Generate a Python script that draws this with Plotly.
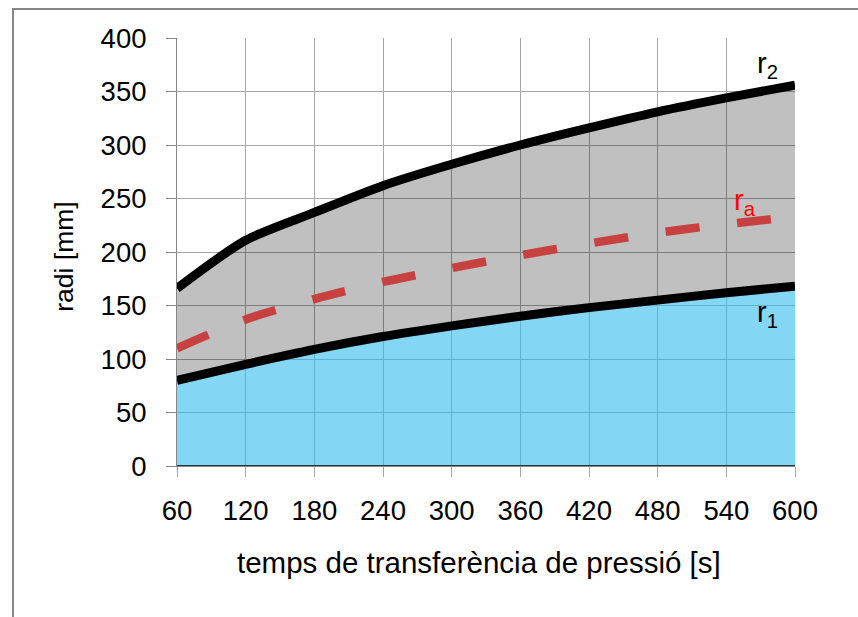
import plotly.graph_objects as go

# data
t = [60, 120, 180, 240, 300, 360, 420, 480, 540, 600]
r1 = [80, 95, 109, 121, 131, 140, 148, 155, 162, 168]
r2 = [166, 211, 237, 262, 282, 300, 316, 331, 344, 356]
ra = [110, 137, 156, 172, 185, 197, 208, 218, 226, 233]
base = [0] * len(t)

x_ticks = [60, 120, 180, 240, 300, 360, 420, 480, 540, 600]
y_ticks = [0, 50, 100, 150, 200, 250, 300, 350, 400]

FONT = "Liberation Sans, Arial, sans-serif"
SM = 0.7

fig = go.Figure()
fig.add_trace(go.Scatter(x=t, y=base, mode="lines",
                         line=dict(color="black", width=1.5), hoverinfo="skip"))
fig.add_trace(go.Scatter(x=t, y=r1, mode="lines", fill="tonexty",
                         fillcolor="rgba(48,188,238,0.6)",
                         line=dict(color="black", width=9, shape="spline", smoothing=SM)))
fig.add_trace(go.Scatter(x=t, y=r2, mode="lines", fill="tonexty",
                         fillcolor="rgba(0,0,0,0.247)",
                         line=dict(color="black", width=9, shape="spline", smoothing=SM)))
fig.add_trace(go.Scatter(x=t, y=ra, mode="lines",
                         line=dict(color="#C84141", width=8.5, dash="34px,38px",
                                   shape="spline", smoothing=SM)))

annos = [
    dict(x=576, y=375, text="r<sub>2</sub>", color="black"),
    dict(x=556, y=247, text="r<sub>a</sub>", color="#FF0000"),
    dict(x=576, y=142, text="r<sub>1</sub>", color="black"),
]
for a in annos:
    fig.add_annotation(x=a["x"], y=a["y"], text=a["text"], showarrow=False,
                       font=dict(family=FONT, size=29, color=a["color"]),
                       xanchor="center", yanchor="middle")

fig.add_annotation(xref="paper", yref="paper", x=0.4879, y=-0.2266,
                   text="temps de transferència de pressió [s]", showarrow=False,
                   font=dict(family=FONT, size=29.5, color="black"),
                   xanchor="center", yanchor="middle")
fig.add_annotation(xref="paper", yref="paper", x=-0.1828, y=0.489,
                   text="radi [mm]", showarrow=False, textangle=-90,
                   font=dict(family=FONT, size=26.5, color="black"),
                   xanchor="center", yanchor="middle")

# outer chart border
fig.add_shape(type="rect", xref="paper", yref="paper",
              x0=-0.2654, y0=-0.40, x1=1.2, y1=1.0678,
              line=dict(color="#878787", width=2), layer="below")

fig.update_xaxes(range=[60, 600], tickvals=x_ticks, ticktext=[str(v) for v in x_ticks],
                 showgrid=True, gridcolor="#A6A6A6", gridwidth=1,
                 showline=True, linecolor="#868686", linewidth=1,
                 ticks="outside", ticklen=10, tickcolor="#A6A6A6",
                 tickfont=dict(family=FONT, size=27.5, color="black"),
                 ticklabelstandoff=10, zeroline=False)
fig.update_yaxes(range=[0, 400], tickvals=y_ticks, ticktext=[str(v) for v in y_ticks],
                 showgrid=True, gridcolor="#A6A6A6", gridwidth=1,
                 showline=True, linecolor="#868686", linewidth=1,
                 ticks="outside", ticklen=10, tickcolor="#868686",
                 tickfont=dict(family=FONT, size=27.5, color="black"),
                 ticklabelstandoff=14, zeroline=False)

fig.update_layout(width=858, height=617,
                  margin=dict(l=177, r=63, t=38, b=151),
                  paper_bgcolor="white", plot_bgcolor="white",
                  showlegend=False)

fig.write_html("out.html")
